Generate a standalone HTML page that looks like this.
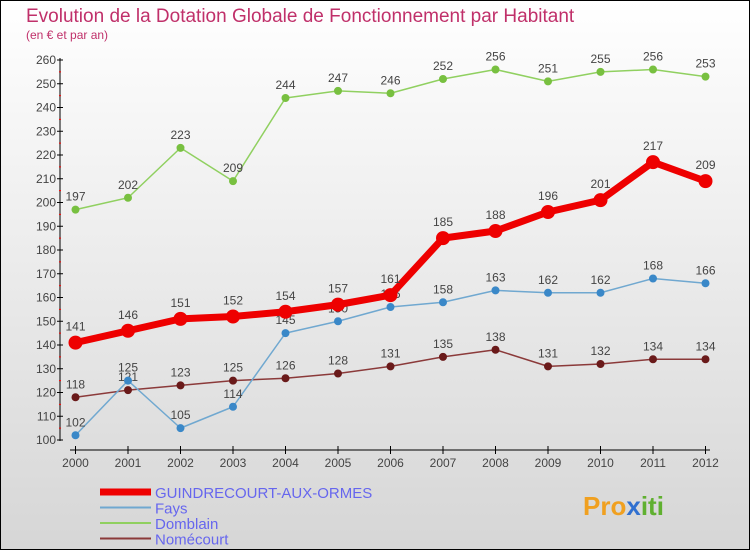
<!DOCTYPE html>
<html><head><meta charset="utf-8"><style>
html,body{margin:0;padding:0}
body{width:750px;height:550px;overflow:hidden;font-family:"Liberation Sans",sans-serif}
svg{display:block}
</style></head><body>
<svg width="750" height="550" xmlns="http://www.w3.org/2000/svg">
<defs><linearGradient id="bg" x1="0" y1="0" x2="0" y2="1"><stop offset="0" stop-color="#ffffff"/><stop offset="1" stop-color="#d6d6d6"/></linearGradient></defs>
<rect x="0.5" y="0.5" width="749" height="549" fill="url(#bg)" stroke="#000"/>
<text x="26" y="22" font-size="19" fill="#c0306a">Evolution de la Dotation Globale de Fonctionnement par Habitant</text>
<text x="26" y="39" font-size="12" fill="#c0306a">(en € et par an)</text>
<g id="axes"></g>
<g id="series"></g>
<g id="legend"></g>
<text x="583" y="515" font-size="26" font-weight="bold" fill="#f0a020">Pro<tspan fill="#3070d0">x</tspan><tspan fill="#60b030">iti</tspan></text>
</svg>
<script>
const years=[2000,2001,2002,2003,2004,2005,2006,2007,2008,2009,2010,2011,2012];
const guindrecourt=[141,146,151,152,154,157,161,185,188,196,201,217,209];
const fays=[102,125,105,114,145,150,156,158,163,162,162,168,166];
const domblain=[197,202,223,209,244,247,246,252,256,251,255,256,253];
const nomecourt=[118,121,123,125,126,128,131,135,138,131,132,134,134];
const yTicks=[100,110,120,130,140,150,160,170,180,190,200,210,220,230,240,250,260];
const NS="http://www.w3.org/2000/svg";
const x=i=>75.5+i*52.5;
const y=v=>440-(v-100)*2.375;
function mk(tag,attrs,parent,txt){const e=document.createElementNS(NS,tag);for(const k in attrs)e.setAttribute(k,attrs[k]);if(txt!==undefined)e.textContent=txt;parent.appendChild(e);return e;}
const ax=document.getElementById('axes');
let e=mk('line',{x1:60,y1:58,x2:60,y2:441,stroke:'#000'},ax);

e=mk('line',{x1:70,y1:450,x2:710,y2:450,stroke:'#000'},ax);

yTicks.forEach(v=>{
 mk('line',{x1:57,x2:63,y1:y(v),y2:y(v),stroke:'#000'},ax);
 if(v<260)mk('line',{x1:59,x2:61,y1:y(v+5),y2:y(v+5),stroke:'#f00'},ax);
 e=mk('text',{x:56,y:y(v)+4,'font-size':12,fill:'#444','text-anchor':'end'},ax,v);
 
});
years.forEach((yr,i)=>{
 mk('line',{x1:x(i),x2:x(i),y1:446,y2:454,stroke:'#000'},ax);
 e=mk('text',{x:x(i),y:467,'font-size':12,fill:'#444','text-anchor':'middle'},ax,yr);
 
});
const sg=document.getElementById('series');
function draw(name,vals,color,dot,w,r,labelDy){
 const g=mk('g',{},sg);
 
 mk('polyline',{points:vals.map((v,i)=>x(i)+','+y(v)).join(' '),fill:'none',stroke:color,'stroke-width':w,'stroke-linejoin':'round'},g);
 vals.forEach((v,i)=>{
  const c=mk('circle',{cx:x(i),cy:y(v),r:r,fill:dot,stroke:dot},g);
  
  const t=mk('text',{x:x(i),y:y(v)+labelDy,'font-size':12,fill:'#444','text-anchor':'middle'},g,v);
  
 });
}
draw('nomecourt',nomecourt,'#8b3a3a','#6a1a1a',1.5,3.5,-9);
draw('fays',fays,'#70a8d0','#3a88c8',1.5,3.5,-9);
draw('domblain',domblain,'#90d060','#78c040',1.5,3.5,-9);
draw('guindrecourt',guindrecourt,'#ee0000','#ee0000',7,6.5,-12);
const lg=document.getElementById('legend');
[['GUINDRECOURT-AUX-ORMES','#ee0000',7],['Fays','#70a8d0',2],['Domblain','#90d060',2],['Nomécourt','#8b3a3a',2]].forEach((d,i)=>{
 const yy=492+i*15.5;
 const g=mk('g',{},lg);
 
 mk('line',{x1:100,x2:151,y1:yy,y2:yy,stroke:d[1],'stroke-width':d[2]},g);
 mk('text',{x:155,y:yy+6,'font-size':15,fill:'#6666ee'},g,d[0]);
});
</script>
</body></html>
